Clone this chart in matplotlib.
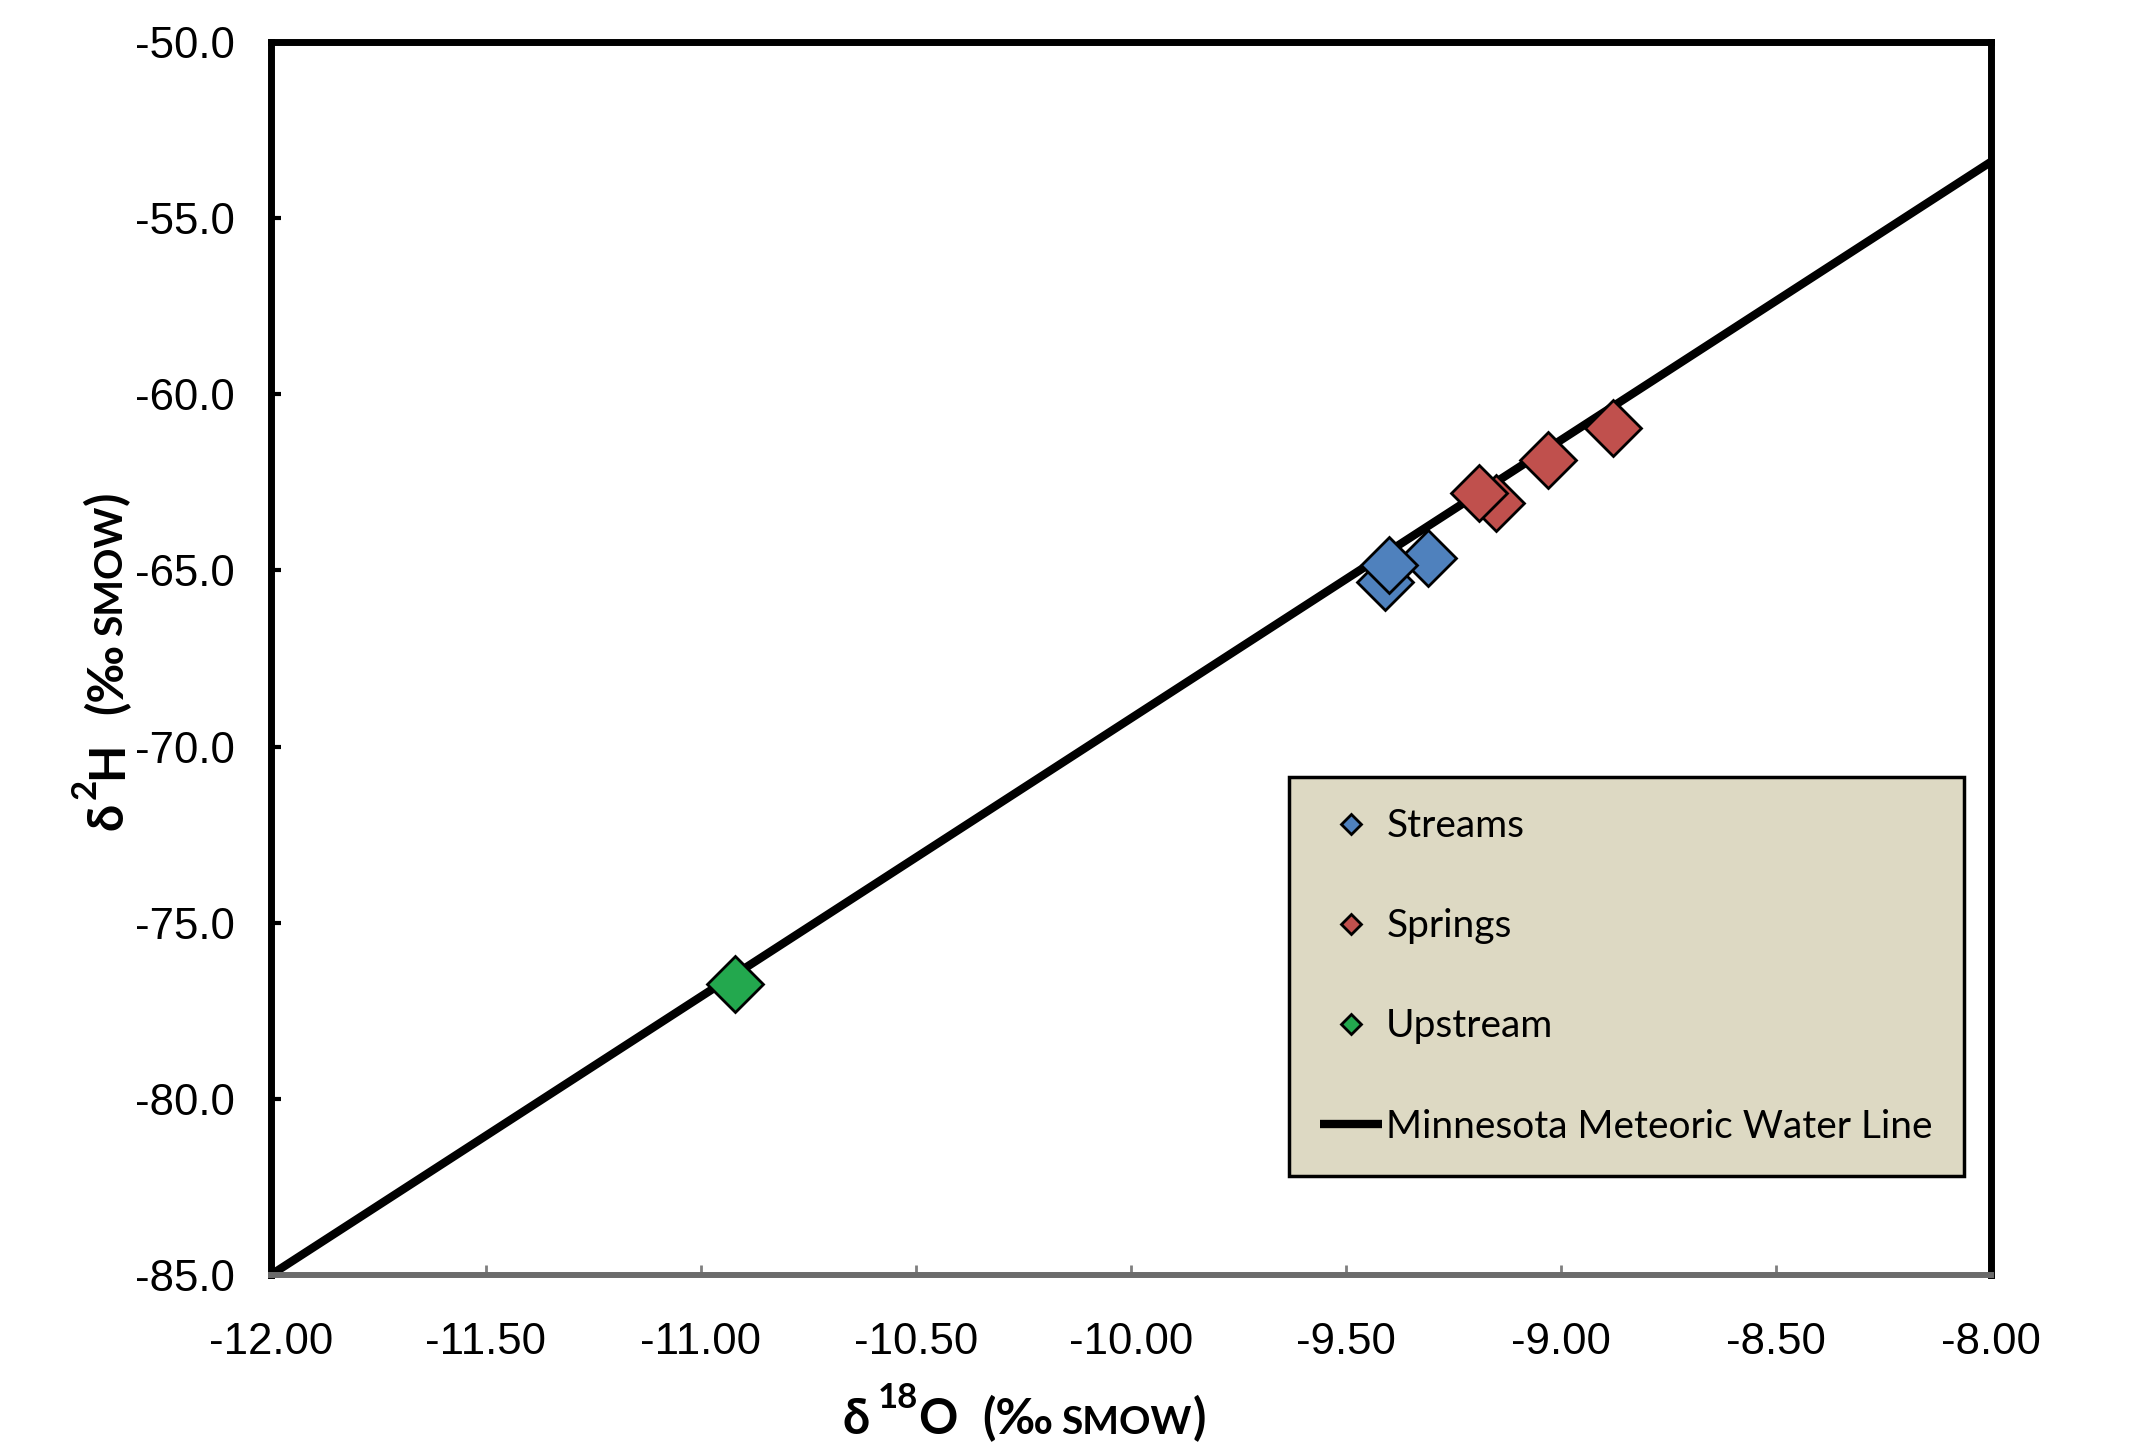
import numpy as np
import matplotlib
matplotlib.use("Agg")
import matplotlib.pyplot as plt
from matplotlib.ticker import FormatStrFormatter

plt.rcParams['axes.unicode_minus'] = False

# данні (δ18O, δ2H), ‰ SMOW
streams_o18 = [-9.31, -9.41, -9.40]
streams_h2 = [-64.64, -65.32, -64.84]
springs_o18 = [-9.15, -9.19, -9.03, -8.88]
springs_h2 = [-63.08, -62.79, -61.86, -60.95]
upstream_o18 = [-10.92]
upstream_h2 = [-76.74]
mwl_o18 = [-12.0, -8.0]
mwl_h2 = [-85.0, -53.4]

xticks = np.arange(-12.0, -7.99, 0.5)
yticks = np.arange(-85.0, -49.9, 5.0)

W, H = 2149, 1444
fig = plt.figure(figsize=(W / 100, H / 100), dpi=100)
ax = fig.add_axes([0.12597, 0.11704, 0.80051, 0.85388])

ax.plot(mwl_o18, mwl_h2, color='black', lw=6, solid_capstyle='butt', zorder=2,
        label='Minnesota Meteoric Water Line')
mk = dict(ls='none', marker='D', ms=29, mec='black', mew=2, zorder=3)
ax.plot(streams_o18, streams_h2, mfc='#4F81BD', label='Streams', **mk)
ax.plot(springs_o18, springs_h2, mfc='#C0504D', label='Springs', **mk)
ax.plot(upstream_o18, upstream_h2, mfc='#23A84E', label='Upstream', **mk)

ax.set_xlim(-12, -8)
ax.set_ylim(-85, -50)
ax.set_xticks(xticks)
ax.set_yticks(yticks)
ax.xaxis.set_major_formatter(FormatStrFormatter('%.2f'))
ax.yaxis.set_major_formatter(FormatStrFormatter('%.1f'))
ax.tick_params(axis='x', direction='in', length=7, width=2, color='#7f7f7f', pad=34)
ax.tick_params(axis='y', direction='in', length=7, width=3, color='black', pad=26)
for lab in ax.get_xticklabels() + ax.get_yticklabels():
    lab.set_fontfamily('Liberation Sans')
    lab.set_fontsize(31.5)

for s in ['left', 'top', 'right']:
    ax.spines[s].set_linewidth(5)
    ax.spines[s].set_color('black')
ax.spines['bottom'].set_linewidth(4.3)
ax.spines['bottom'].set_color('#6b6b6b')

# легенда
h, l = ax.get_legend_handles_labels()
order = [1, 2, 3, 0]
leg = ax.legend([h[i] for i in order], [l[i] for i in order],
                loc='upper left', bbox_to_anchor=(1289 / W, 1 - 777 / H),
                bbox_transform=fig.transFigure, borderaxespad=0,
                prop={'family': 'Lato', 'size': 28}, markerscale=0.34,
                handlelength=1.6, handletextpad=0.1, labelspacing=1.65,
                borderpad=0.8, fancybox=False, framealpha=1)
leg.get_frame().set_facecolor('#DDD9C3')
leg.get_frame().set_edgecolor('black')
leg.get_frame().set_linewidth(2.5)


# підписи осей зі шматків різного розміру
def draw_label(pieces, x, y, vertical):
    r = fig.canvas.get_renderer()
    pos = 0.0
    for text, size, rise, gap in pieces:
        pos += gap
        if vertical:
            px, py = x - rise, y + pos
        else:
            px, py = x + pos, y + rise
        t = fig.text(px / W, py / H, text, fontsize=size, fontweight='bold',
                     family=['Lato', 'DejaVu Sans'], rotation=90 if vertical else 0,
                     rotation_mode='anchor', ha='left', va='baseline')
        bb = t.get_window_extent(r)
        pos += bb.height if vertical else bb.width


draw_label([("δ", 35, 0, 0), ("18", 25, 26, 9), ("O", 35, 0, 0),
            ("(‰", 35, 0, 25), ("SMOW", 28, 0, 7), (")", 35, 0, 1)],
           842, H - 1434, False)
draw_label([("δ", 35, 0, 0), ("2", 25, 26, 4), ("H", 35, 0, 0),
            ("(‰", 35, 0, 27), ("SMOW", 28, 0, 7), (")", 35, 0, 1)],
           122, H - 830, True)

fig.savefig('out.png', dpi=100)
